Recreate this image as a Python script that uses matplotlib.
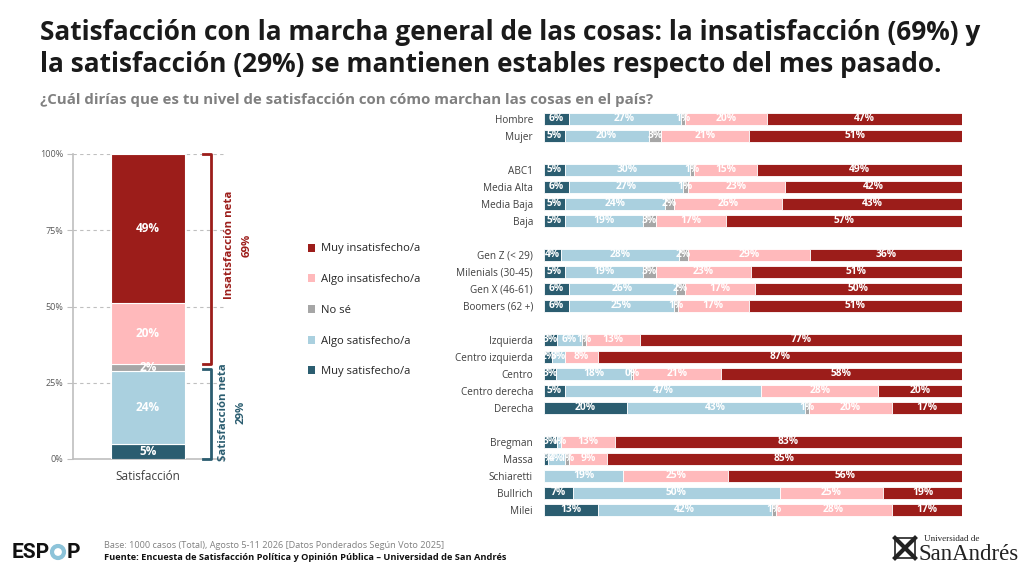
import numpy as np
import matplotlib.pyplot as plt
from matplotlib.patches import Patch, Ellipse, Rectangle

plt.rcParams['font.family'] = ['Open Sans', 'DejaVu Sans']

# categories and colours, from "Muy satisfecho/a" to "Muy insatisfecho/a"
categories = ['Muy satisfecho/a', 'Algo satisfecho/a', 'No sé', 'Algo insatisfecho/a', 'Muy insatisfecho/a']
colors = ['#2B5D70', '#AAD0DF', '#A6A6A6', '#FFB9BB', '#9C1D1A']

total_values = [5, 24, 2, 20, 49]

# right panel, groups separated by a blank row
groups = [
    ['Hombre', 'Mujer'],
    ['ABC1', 'Media Alta', 'Media Baja', 'Baja'],
    ['Gen Z (< 29)', 'Milenials (30-45)', 'Gen X (46-61)', 'Boomers (62 +)'],
    ['Izquierda', 'Centro izquierda', 'Centro', 'Centro derecha', 'Derecha'],
    ['Bregman', 'Massa', 'Schiaretti', 'Bullrich', 'Milei'],
]
muy_sat = [6, 5, 5, 6, 5, 5, 4, 5, 6, 6, 3, 2, 3, 5, 20, 3, 1, 0, 7, 13]
algo_sat = [27, 20, 30, 27, 24, 19, 28, 19, 26, 25, 6, 3, 18, 47, 43, 1, 4, 19, 50, 42]
no_se = [1, 3, 1, 1, 2, 3, 2, 3, 2, 1, 1, 0, 0.4, 0, 1, 0, 1, 0, 0, 1]
algo_insat = [20, 21, 15, 23, 26, 17, 29, 23, 17, 17, 13, 8, 21, 28, 20, 13, 9, 25, 25, 28]
muy_insat = [47, 51, 49, 42, 43, 57, 36, 51, 50, 51, 77, 87, 58, 20, 17, 83, 85, 56, 19, 17]

title = ('Satisfacción con la marcha general de las cosas: la insatisfacción (69%) y\n'
         'la satisfacción (29%) se mantienen estables respecto del mes pasado.')
subtitle = '¿Cuál dirías que es tu nivel de satisfacción con cómo marchan las cosas en el país?'

fig = plt.figure(figsize=(10.24, 5.66), dpi=100)
W, H = 1024, 566

def px_axes(x0, y0, x1, y1):
    return fig.add_axes([x0 / W, 1 - y1 / H, (x1 - x0) / W, (y1 - y0) / H])

fig.text(40 / W, 1 - 19 / H, title, fontsize=18.9, fontweight='bold', color='#1A1A1A',
         va='top', ha='left', linespacing=1.22)
fig.text(40 / W, 1 - 100 / H, subtitle, fontsize=10.8, fontweight='bold', color='#808080',
         va='center', ha='left')

# ---- left stacked bar ----
axl = px_axes(73, 154, 225, 459)
axl.set_xlim(0, 152)
axl.set_ylim(0, 100)
bottom = 0
for v, c in zip(total_values, colors):
    axl.bar(75, v, width=74, bottom=bottom, color=c, edgecolor='white', linewidth=0.8, zorder=3)
    axl.text(75, bottom + v / 2, f'{v}%', color='white', fontsize=8.5, fontweight='bold',
             ha='center', va='center', zorder=4)
    bottom += v
axl.set_yticks([0, 25, 50, 75, 100])
axl.set_yticklabels(['0%', '25%', '50%', '75%', '100%'], fontsize=6.5, color='#595959')
axl.yaxis.grid(True, linestyle=(0, (3, 3)), color='#BFBFBF', linewidth=0.8, zorder=0)
axl.tick_params(axis='y', length=4, color='#BFBFBF', pad=3)
axl.set_xticks([75])
axl.set_xticklabels(['Satisfacción'], fontsize=8.5, color='#404040')
axl.tick_params(axis='x', length=0, pad=8)
for s in ['top', 'right']:
    axl.spines[s].set_visible(False)
for s in ['left', 'bottom']:
    axl.spines[s].set_color('#BFBFBF')
    axl.spines[s].set_linewidth(1.2)

insat = total_values[3] + total_values[4]
sat = total_values[0] + total_values[1]
red, teal = '#9C1D1A', '#2B5D70'
# brackets
yb_top, yb_bot = 100, 100 - insat + 0.3
axl.plot([130, 138, 138, 130], [yb_top, yb_top, yb_bot, yb_bot], color=red, lw=2, clip_on=False, zorder=5)
axl.plot([130, 138, 138, 130], [sat + 0.5, sat + 0.5, 0, 0], color=teal, lw=2, clip_on=False, zorder=5)
axl.text(157, 70.2, 'Insatisfacción neta', rotation=90, color=red, fontsize=8.2,
         fontweight='bold', ha='center', va='center', clip_on=False)
axl.text(174, 70.2, f'{insat}%', rotation=90, color=red, fontsize=8.2,
         fontweight='bold', ha='center', va='center', clip_on=False)
axl.text(150, 15.4, 'Satisfacción neta', rotation=90, color=teal, fontsize=8.2,
         fontweight='bold', ha='center', va='center', clip_on=False)
axl.text(168, 15.4, f'{sat}%', rotation=90, color=teal, fontsize=8.2,
         fontweight='bold', ha='center', va='center', clip_on=False)

handles = [Patch(facecolor=c, edgecolor='none') for c in colors][::-1]
fig.legend(handles, categories[::-1], loc='upper left', bbox_to_anchor=(303 / W, 1 - 239 / H),
           frameon=False, fontsize=8.1, labelcolor='#262626', handlelength=0.7, handleheight=0.7,
           handletextpad=0.5, labelspacing=1.75, borderaxespad=0)

# ---- right panel ----
labels, ypos = [], []
row = 0
for g in groups:
    for name in g:
        labels.append(name)
        ypos.append(row)
        row += 1
    row += 1
ypos = np.array(ypos)

axr = px_axes(544, 110.5, 962, 518.5)
axr.set_xlim(0, 100)
axr.set_ylim(ypos[-1] + 0.5, -0.5)
data = np.array([muy_sat, algo_sat, no_se, algo_insat, muy_insat], dtype=float)
totals = data.sum(axis=0)
left = np.zeros(len(labels))
for k, c in enumerate(colors):
    w = data[k] / totals * 100
    axr.barh(ypos, w, left=left, height=0.72, color=c, edgecolor='white', linewidth=0.6)
    for y, l, wi, v in zip(ypos, left, w, data[k]):
        if v > 0:
            axr.text(l + wi / 2, y, f'{v:.0f}%', color='white', fontsize=7.4, fontweight='bold',
                     ha='center', va='center')
    left += w
axr.set_yticks(ypos)
axr.set_yticklabels(labels, fontsize=7.2, color='#404040')
axr.tick_params(axis='y', length=0, pad=8)
axr.set_xticks([])
for s in axr.spines.values():
    s.set_visible(False)

# ---- footer ----
fig.text(12 / W, 1 - 552 / H, 'ESP', fontsize=15, fontweight='bold', color='#111111',
         ha='left', va='center', family=['Roboto', 'DejaVu Sans'])
fig.add_artist(Ellipse((58 / W, 1 - 552 / H), 12 / W, 12 / H, transform=fig.transFigure,
                       facecolor='none', edgecolor='#8CC3D9', linewidth=3))
fig.text(67 / W, 1 - 552 / H, 'P', fontsize=15, fontweight='bold', color='#111111',
         ha='left', va='center', family=['Roboto', 'DejaVu Sans'])
fig.text(104 / W, 1 - 546 / H, 'Base: 1000 casos (Total), Agosto 5-11 2026 [Datos Ponderados Según Voto 2025]',
         fontsize=6.6, color='#808080', ha='left', va='center')
fig.text(104 / W, 1 - 557 / H, 'Fuente: Encuesta de Satisfacción Política y Opinión Pública – Universidad de San Andrés',
         fontsize=6.7, fontweight='bold', color='#111111', ha='left', va='center')

# simple crest
fig.add_artist(Rectangle((895 / W, 1 - 558 / H), 20 / W, 20 / H, transform=fig.transFigure,
                         facecolor='white', edgecolor='#222222', linewidth=1.2))
fig.add_artist(plt.Line2D([895 / W, 915 / W], [1 - 538 / H, 1 - 558 / H], transform=fig.transFigure,
                          color='#222222', linewidth=3))
fig.add_artist(plt.Line2D([895 / W, 915 / W], [1 - 558 / H, 1 - 538 / H], transform=fig.transFigure,
                          color='#222222', linewidth=3))
fig.text(924 / W, 1 - 539 / H, 'Universidad de', fontsize=6.5, color='#222222', ha='left', va='center',
         family=['Liberation Serif', 'DejaVu Serif'])
fig.text(919 / W, 1 - 554 / H, 'SanAndrés', fontsize=16.5, color='#222222', ha='left', va='center',
         family=['Liberation Serif', 'DejaVu Serif'])

fig.savefig('out.png', dpi=100)
